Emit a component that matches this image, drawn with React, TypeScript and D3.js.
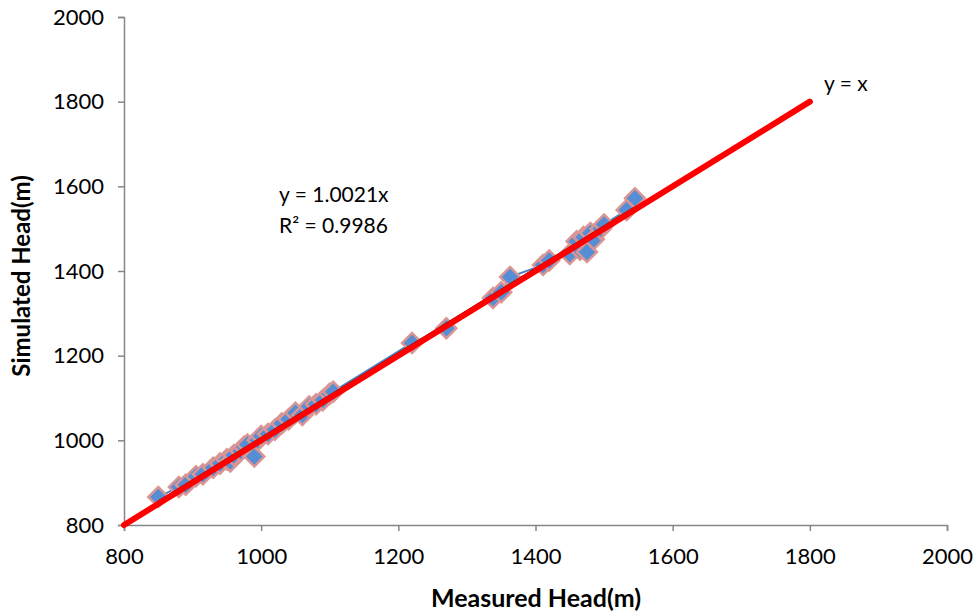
import * as React from 'react';
import * as d3 from 'd3';

// measured vs simulated head (m)
const measured = [850, 880, 890, 905, 915, 930, 940, 950, 955, 960, 970, 975, 980, 990, 995, 1000, 1010, 1020, 1030, 1040, 1050, 1060, 1070, 1080, 1090, 1100, 1105, 1220, 1270, 1338, 1350, 1363, 1411, 1420, 1450, 1460, 1465, 1470, 1475, 1480, 1485, 1495, 1500, 1533, 1545];
const simulated = [866, 890, 895, 915, 920, 935, 945, 955, 950, 965, 975, 985, 990, 962, 1000, 1010, 1015, 1025, 1040, 1050, 1065, 1060, 1080, 1085, 1095, 1110, 1115, 1230, 1265, 1336, 1350, 1386, 1414, 1425, 1440, 1470, 1450, 1480, 1445, 1490, 1475, 1500, 1510, 1544, 1572];
const ticks = [800, 1000, 1200, 1400, 1600, 1800, 2000];
const slope = 1.0021;
const identity = [800, 1800];

const W = 977;
const H = 615;
const font = 'Lato, "Open Sans", sans-serif';

export default function App() {
  const ref = React.useRef<SVGSVGElement>(null);

  React.useEffect(() => {
    const svg = d3.select(ref.current);
    svg.selectAll('*').remove();

    const x = d3.scaleLinear().domain([800, 2000]).range([124, 947]);
    const y = d3.scaleLinear().domain([800, 2000]).range([525, 17]);
    const data = measured.map((m, i) => ({ m, s: simulated[i] }));

    // axes
    const xAxis = svg.append('g')
      .attr('transform', `translate(0,${y(800)})`)
      .call(d3.axisBottom(x).tickValues(ticks).tickSize(6).tickPadding(17).tickFormat(d3.format('d')));
    const yAxis = svg.append('g')
      .attr('transform', `translate(${x(800)},0)`)
      .call(d3.axisLeft(y).tickValues(ticks).tickSize(6).tickPadding(14).tickFormat(d3.format('d')));
    [xAxis, yAxis].forEach(a => {
      a.select('.domain').attr('stroke', '#868686').attr('stroke-width', 1.5);
      a.selectAll('.tick line').attr('stroke', '#868686').attr('stroke-width', 1.5);
      a.selectAll('.tick text')
        .attr('fill', '#000')
        .style('font-family', font)
        .style('font-size', '22px');
    });

    // series line
    const line = d3.line<{ m: number; s: number }>().x(d => x(d.m)).y(d => y(d.s));
    svg.append('path')
      .datum(data)
      .attr('fill', 'none')
      .attr('stroke', '#4F81BD')
      .attr('stroke-width', 2)
      .attr('d', line);

    // markers
    const sym = d3.symbol().type(d3.symbolSquare).size(200);
    svg.append('g')
      .selectAll('path')
      .data(data)
      .join('path')
      .attr('d', sym)
      .attr('transform', d => `translate(${x(d.m)},${y(d.s)}) rotate(45)`)
      .attr('fill', '#558ED5')
      .attr('stroke', '#D99694')
      .attr('stroke-width', 2.5);

    // trendline y = 1.0021x
    const ext = d3.extent(measured) as [number, number];
    svg.append('line')
      .attr('x1', x(ext[0])).attr('y1', y(ext[0] * slope) - 1.5)
      .attr('x2', x(ext[1])).attr('y2', y(ext[1] * slope) - 1)
      .attr('stroke', '#000')
      .attr('stroke-width', 2);

    // y = x
    svg.append('line')
      .attr('x1', x(identity[0])).attr('y1', y(identity[0]))
      .attr('x2', x(identity[1])).attr('y2', y(identity[1]))
      .attr('stroke', '#FF0000')
      .attr('stroke-width', 6)
      .attr('stroke-linecap', 'round');

    const txt = (t: string, px: number, py: number, anchor = 'start', size = 21, bold = false) =>
      svg.append('text')
        .attr('x', px).attr('y', py)
        .attr('text-anchor', anchor)
        .style('font-family', font)
        .style('font-size', `${size}px`)
        .style('font-weight', bold ? 'bold' : 'normal')
        .text(t);

    txt('y = 1.0021x', 279, 202);
    txt('R² = 0.9986', 279, 233);
    txt('y = x', 824, 91);
    txt('Measured Head(m)', 536, 607, 'middle', 25, true);
    txt('Simulated Head(m)', 0, 0, 'middle', 24, true)
      .attr('transform', 'translate(30,276) rotate(-90)');
  }, []);

  return (
    <svg ref={ref} width={W} height={H}
      style={{ position: 'absolute', left: 0, top: 0, background: '#fff' }} />
  );
}
